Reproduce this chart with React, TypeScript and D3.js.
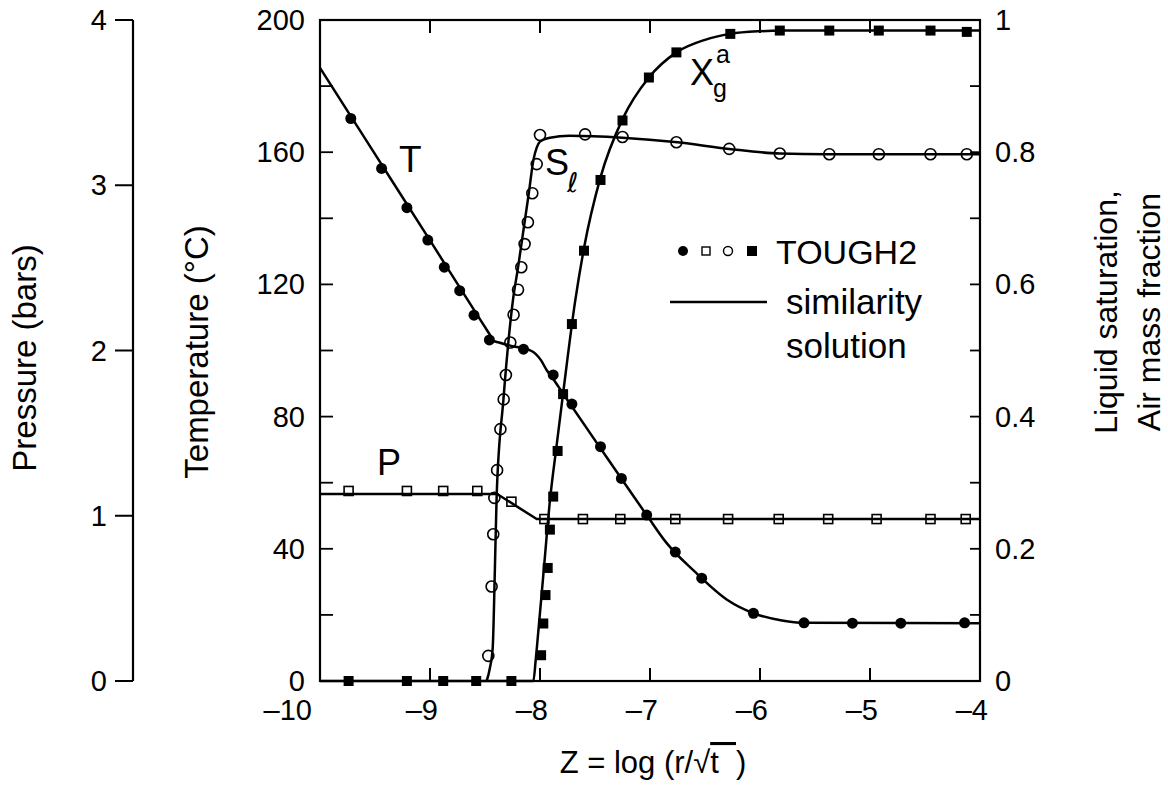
import React from "react";
import * as d3 from "d3";

// ---------- data ----------
const zTicks = [-10, -9, -8, -7, -6, -5, -4];
const tempTicks = [0, 40, 80, 120, 160, 200];
const tempMinor = [20, 60, 100, 140, 180];
const satTicks = [0, 0.2, 0.4, 0.6, 0.8, 1];
const satMinor = [0.1, 0.3, 0.5, 0.7, 0.9];
const presTicks = [0, 1, 2, 3, 4];

// TOUGH2 temperature (filled circles)
const tDotsZ = [-9.72, -9.44, -9.21, -9.02, -8.87, -8.73, -8.6, -8.46, -8.15, -7.88, -7.71, -7.45, -7.26, -7.03, -6.77, -6.53, -6.06, -5.6, -5.16, -4.72, -4.14];
const tDotsT = [170.2, 155.1, 143.2, 133.4, 125.2, 118.1, 110.7, 103.2, 100.4, 92.6, 83.8, 70.9, 61.3, 50.2, 39.0, 31.1, 20.5, 17.6, 17.5, 17.5, 17.6];
// similarity solution temperature
const tSolZ = [-10, -9.5, -9.0, -8.6, -8.46, -8.42, -8.38, -8.25, -8.1, -8.04, -7.99, -7.94, -7.88, -7.785, -7.4, -7.03, -6.85, -6.6, -6.3, -6.05, -5.8, -5.6, -4];
const tSolT = [185.5, 159.4, 133.3, 112.3, 105.0, 102.9, 102.5, 101.3, 100.2, 99.0, 97.0, 94.1, 91.4, 86.7, 68.0, 50.2, 41.8, 33.3, 24.6, 20.4, 18.3, 17.6, 17.5];

// TOUGH2 liquid saturation (open circles)
const sDotsZ = [-8.47, -8.44, -8.425, -8.415, -8.39, -8.36, -8.33, -8.31, -8.27, -8.24, -8.2, -8.17, -8.14, -8.11, -8.07, -8.03, -8.0, -7.59, -7.25, -6.76, -6.28, -5.82, -5.37, -4.92, -4.45, -4.12];
const sDotsS = [0.038, 0.143, 0.222, 0.277, 0.319, 0.381, 0.426, 0.463, 0.512, 0.554, 0.592, 0.626, 0.661, 0.694, 0.738, 0.782, 0.826, 0.827, 0.823, 0.815, 0.805, 0.798, 0.797, 0.797, 0.797, 0.797];
const sSolZ = [-8.485, -8.455, -8.43, -8.41, -8.394, -8.333, -8.243, -8.2, -8.1, -8.06, -8.03, -8.0, -7.91, -7.73, -7.25, -6.75, -6.28, -5.82, -5.4, -4];
const sSolS = [0, 0.02, 0.05, 0.17, 0.28, 0.425, 0.58, 0.625, 0.74, 0.788, 0.807, 0.816, 0.822, 0.825, 0.822, 0.815, 0.805, 0.798, 0.797, 0.797];

// TOUGH2 air mass fraction (filled squares)
const xDotsZ = [-9.74, -9.21, -8.88, -8.58, -8.26, -7.99, -7.97, -7.95, -7.93, -7.91, -7.88, -7.84, -7.79, -7.71, -7.6, -7.45, -7.25, -7.01, -6.76, -6.27, -5.82, -5.37, -4.92, -4.45, -4.12];
const xDotsX = [0, 0, 0, 0, 0, 0.039, 0.087, 0.13, 0.171, 0.229, 0.279, 0.348, 0.434, 0.54, 0.651, 0.758, 0.848, 0.913, 0.951, 0.979, 0.984, 0.984, 0.984, 0.984, 0.982];
const xSolZ = [-10, -8.06, -8.04, -8.025, -7.97, -7.909, -7.85, -7.79, -7.68, -7.6, -7.45, -7.25, -7.01, -6.76, -6.5, -6.27, -6.0, -5.8, -4];
const xSolX = [0, 0, 0.03, 0.057, 0.16, 0.274, 0.355, 0.435, 0.575, 0.655, 0.762, 0.85, 0.913, 0.951, 0.97, 0.979, 0.983, 0.984, 0.984];

// TOUGH2 pressure (open squares), bars
const pDotsZ = [-9.74, -9.21, -8.88, -8.57, -8.26, -7.96, -7.61, -7.27, -6.77, -6.29, -5.83, -5.38, -4.94, -4.45, -4.13];
const pDotsP = [1.15, 1.15, 1.15, 1.15, 1.085, 0.98, 0.98, 0.98, 0.98, 0.98, 0.98, 0.98, 0.98, 0.98, 0.98];
const pSolZ = [-10, -8.39, -8.03, -4];
const pSolP = [1.132, 1.132, 0.98, 0.98];

const FONT = "'Liberation Sans', Arial, Helvetica, sans-serif";

export default function App() {
  const left = 320, right = 980, top = 20, bottom = 681;
  const x = d3.scaleLinear().domain([-10, -4]).range([left, right]);
  const yT = d3.scaleLinear().domain([0, 200]).range([bottom, top]);
  const yS = d3.scaleLinear().domain([0, 1]).range([bottom, top]);
  const yP = d3.scaleLinear().domain([0, 4]).range([bottom, top]);
  const pAxisX = 133;

  const mk = (zs: number[], vs: number[], ys: d3.ScaleLinear<number, number>, curve: any) =>
    d3.line<number>().x((_, i) => x(zs[i])).y((v) => ys(v)).curve(curve)(vs) || "";

  const tPath = mk(tSolZ, tSolT, yT, d3.curveMonotoneX);
  const sPath = mk(sSolZ, sSolS, yS, d3.curveMonotoneX);
  const xPath = mk(xSolZ, xSolX, yS, d3.curveMonotoneX);
  const pPath = mk(pSolZ, pSolP, yP, d3.curveLinear);

  const lw = 2.5;
  const r = 5.5;
  const sq = 10;

  return (
    <svg width={1168} height={794} style={{ position: "absolute", left: 0, top: 0, background: "#fff" }} fontFamily={FONT}>
      <rect x={0} y={0} width={1168} height={794} fill="#fff" />
      {/* frame */}
      <rect x={left} y={top} width={right - left} height={bottom - top} fill="none" stroke="#000" strokeWidth={2.2} />
      {/* bottom & top ticks */}
      {zTicks.slice(1, -1).map((t) => (
        <g key={"zt" + t}>
          <line x1={x(t)} x2={x(t)} y1={bottom} y2={bottom - 13} stroke="#000" strokeWidth={2} />
          <line x1={x(t)} x2={x(t)} y1={top} y2={top + 13} stroke="#000" strokeWidth={2} />
        </g>
      ))}
      {zTicks.map((t) => (
        <text key={"zl" + t} x={x(t) + (t === -10 ? -8 : 8)} y={720} fontSize={29} textAnchor="end">
          {"\u2013" + Math.abs(t)}
        </text>
      ))}
      {/* left temperature ticks */}
      {[...tempTicks, ...tempMinor].map((t) => (
        <line key={"tt" + t} x1={left} x2={left + 13} y1={yT(t)} y2={yT(t)} stroke="#000" strokeWidth={1.8} />
      ))}
      {tempTicks.map((t) => (
        <text key={"tl" + t} x={305} y={yT(t) + 10} fontSize={29} textAnchor="end">
          {t}
        </text>
      ))}
      {/* right saturation ticks */}
      {[...satTicks, ...satMinor].map((t) => (
        <line key={"st" + t} x1={right} x2={right - 10} y1={yS(t)} y2={yS(t)} stroke="#000" strokeWidth={1.8} />
      ))}
      {satTicks.map((t) => (
        <text key={"sl" + t} x={995} y={yS(t) + 10} fontSize={29} textAnchor="start">
          {String(t)}
        </text>
      ))}
      {/* pressure axis */}
      <line x1={pAxisX} x2={pAxisX} y1={yP(4)} y2={yP(0)} stroke="#000" strokeWidth={2.2} />
      {presTicks.map((t) => (
        <g key={"pt" + t}>
          <line x1={pAxisX - 18} x2={pAxisX} y1={yP(t)} y2={yP(t)} stroke="#000" strokeWidth={2} />
          <text x={107} y={yP(t) + 10} fontSize={29} textAnchor="end">
            {t}
          </text>
        </g>
      ))}
      {/* axis titles */}
      <text transform="translate(36,358) rotate(-90)" fontSize={33} textAnchor="middle">
        Pressure (bars)
      </text>
      <text transform="translate(208,352) rotate(-90)" fontSize={33} textAnchor="middle">
        Temperature (°C)
      </text>
      <text transform="translate(1117,312) rotate(-90)" fontSize={32} textAnchor="middle">
        Liquid saturation,
      </text>
      <text transform="translate(1160,312) rotate(-90)" fontSize={32} textAnchor="middle">
        Air mass fraction
      </text>
      <text x={653} y={773} fontSize={31} textAnchor="middle">
        Z = log (r/√<tspan style={{ textDecoration: "overline" }}>t&#160;&#160;</tspan>)
      </text>

      {/* solution curves */}
      <g fill="none" stroke="#000" strokeWidth={lw} strokeLinejoin="round">
        <path d={tPath} />
        <path d={sPath} />
        <path d={xPath} />
        <path d={pPath} />
      </g>

      {/* TOUGH2 markers */}
      {tDotsZ.map((z, i) => (
        <circle key={"td" + i} cx={x(z)} cy={yT(tDotsT[i])} r={r} fill="#000" />
      ))}
      {sDotsZ.map((z, i) => (
        <circle key={"sd" + i} cx={x(z)} cy={yS(sDotsS[i])} r={r} fill="none" stroke="#000" strokeWidth={1.6} />
      ))}
      {xDotsZ.map((z, i) => (
        <rect key={"xd" + i} x={x(z) - sq / 2} y={yS(xDotsX[i]) - sq / 2} width={sq} height={sq} fill="#000" />
      ))}
      {pDotsZ.map((z, i) => (
        <rect key={"pd" + i} x={x(z) - 4.5} y={yP(pDotsP[i]) - 4.5} width={9} height={9} fill="none" stroke="#000" strokeWidth={1.6} />
      ))}

      {/* curve labels */}
      <text x={399} y={172} fontSize={37}>T</text>
      <text x={377} y={475} fontSize={36}>P</text>
      <text x={545} y={175} fontSize={36}>S</text>
      <text x={567} y={192} fontSize={27} fontStyle="italic" fontFamily="'DejaVu Sans', sans-serif">ℓ</text>
      <text x={690} y={85} fontSize={36}>X</text>
      <text x={713} y={97} fontSize={25}>g</text>
      <text x={716} y={63} fontSize={25}>a</text>

      {/* legend */}
      <circle cx={683} cy={251} r={5} fill="#000" />
      <rect x={702} y={247} width={8} height={8} fill="none" stroke="#000" strokeWidth={1.4} />
      <circle cx={728} cy={251} r={4.5} fill="none" stroke="#000" strokeWidth={1.4} />
      <rect x={747} y={246} width={10} height={10} fill="#000" />
      <text x={776} y={264} fontSize={34}>TOUGH2</text>
      <line x1={670} x2={767} y1={302} y2={302} stroke="#000" strokeWidth={lw} />
      <text x={786} y={314} fontSize={35}>similarity</text>
      <text x={786} y={358} fontSize={35}>solution</text>
    </svg>
  );
}
